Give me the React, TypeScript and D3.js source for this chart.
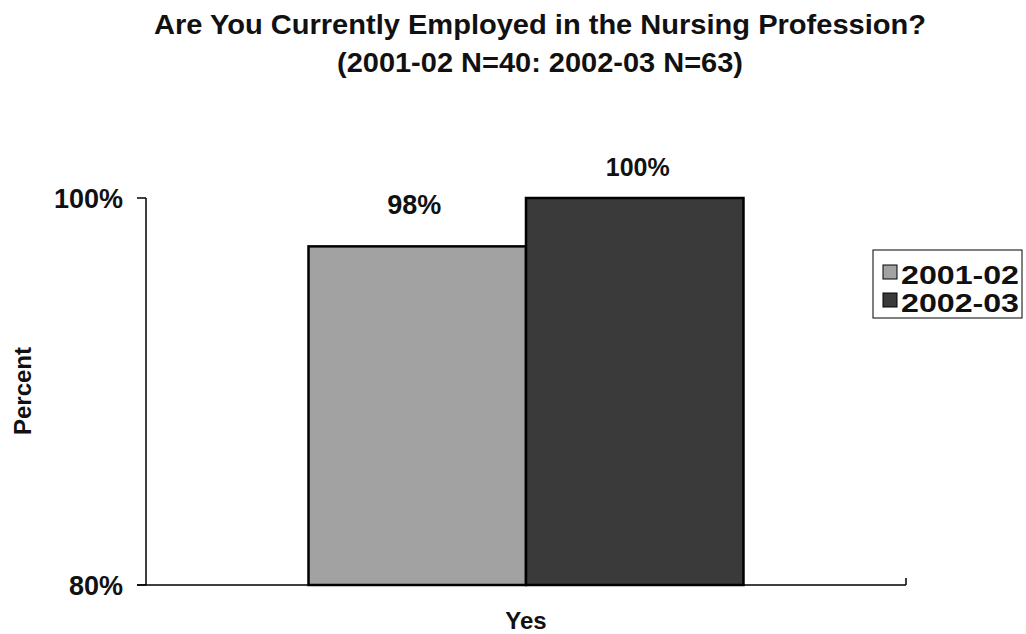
import React from "react";
import * as d3 from "d3";

const categories = ["Yes"];
const seriesNames = ["2001-02", "2002-03"];
const values2001 = [97.5];
const values2002 = [100];
const valueLabels2001 = ["98%"];
const valueLabels2002 = ["100%"];
const yTicks = [80, 100];
const titleLines = [
  "Are You Currently Employed in the Nursing Profession?",
  "(2001-02 N=40: 2002-03 N=63)",
];
const yAxisTitle = "Percent";

const seriesColors = ["#a2a2a2", "#3a3a3a"];
const FONT = "'Liberation Sans', Arial, Helvetica, sans-serif";

export default function App() {
  const W = 1026;
  const H = 634;
  const plotLeft = 146;
  const plotRight = 906;
  const plotTop = 198;
  const plotBottom = 585;

  const y = d3.scaleLinear().domain([80, 100]).range([plotBottom, plotTop]);
  const x0 = d3
    .scaleBand<string>()
    .domain(categories)
    .range([plotLeft, plotRight])
    .paddingInner(0)
    .paddingOuter(0.3736);
  const x1 = d3
    .scaleBand<string>()
    .domain(seriesNames)
    .range([0, x0.bandwidth()])
    .padding(0);

  const seriesValues = [values2001, values2002];
  const seriesLabels = [valueLabels2001, valueLabels2002];

  return (
    <svg
      width={W}
      height={H}
      style={{ position: "absolute", left: 0, top: 0, background: "#fff" }}
      fontFamily={FONT}
      fontWeight="bold"
    >
      <rect x={0} y={0} width={W} height={H} fill="#fff" />
      {/* Title */}
      <text x={540} y={34} textAnchor="middle" fontSize={27} fill="#111" textLength={772} lengthAdjust="spacingAndGlyphs">
        {titleLines[0]}
      </text>
      <text x={540} y={72} textAnchor="middle" fontSize={27} fill="#111" textLength={406} lengthAdjust="spacingAndGlyphs">
        {titleLines[1]}
      </text>

      {/* Bars */}
      {categories.map((c, ci) =>
        seriesNames.map((s, si) => {
          const v = seriesValues[si][ci];
          const bx = (x0(c) as number) + (x1(s) as number);
          const bw = x1.bandwidth();
          return (
            <g key={c + s}>
              <rect
                x={bx}
                y={y(v)}
                width={bw}
                height={y(80) - y(v)}
                fill={seriesColors[si]}
                stroke="#000"
                strokeWidth={2.5}
              />
              <text
                x={bx + bw / 2 - (si === 0 ? 3 : -3)}
                y={y(v) - (si === 0 ? 32 : 22)}
                textAnchor="middle"
                fontSize={si === 0 ? 27 : 25}
                fill="#111"
              >
                {seriesLabels[si][ci]}
              </text>
            </g>
          );
        })
      )}

      {/* Axes */}
      <line x1={plotLeft} y1={plotTop} x2={plotLeft} y2={plotBottom} stroke="#000" strokeWidth={1.5} />
      <line x1={plotLeft - 9} y1={plotBottom} x2={plotRight} y2={plotBottom} stroke="#000" strokeWidth={1.5} />
      <line x1={plotRight} y1={plotBottom - 7} x2={plotRight} y2={plotBottom} stroke="#000" strokeWidth={1.5} />
      {yTicks.map((t) => (
        <g key={t}>
          <line x1={plotLeft - 9} y1={y(t)} x2={plotLeft} y2={y(t)} stroke="#000" strokeWidth={1.5} />
          <text x={123} y={y(t) + 10} textAnchor="end" fontSize={27} fill="#111">
            {t + "%"}
          </text>
        </g>
      ))}

      {/* Category label */}
      {categories.map((c) => (
        <text key={c} x={(x0(c) as number) + x0.bandwidth() / 2} y={629} textAnchor="middle" fontSize={24} fill="#111">
          {c}
        </text>
      ))}

      {/* Y axis title */}
      <text
        transform={`translate(31, 391) rotate(-90)`}
        textAnchor="middle"
        fontSize={24}
        fill="#111"
      >
        {yAxisTitle}
      </text>

      {/* Legend */}
      <rect x={873} y={250} width={149} height={68} fill="#fff" stroke="#000" strokeWidth={1} />
      {seriesNames.map((s, i) => (
        <g key={s}>
          <rect x={883} y={265 + i * 28} width={14} height={14} fill={seriesColors[i]} stroke="#000" strokeWidth={1} />
          <text x={901} y={284 + i * 28} fontSize={25} fill="#111" textLength={118} lengthAdjust="spacingAndGlyphs">
            {s}
          </text>
        </g>
      ))}
    </svg>
  );
}
